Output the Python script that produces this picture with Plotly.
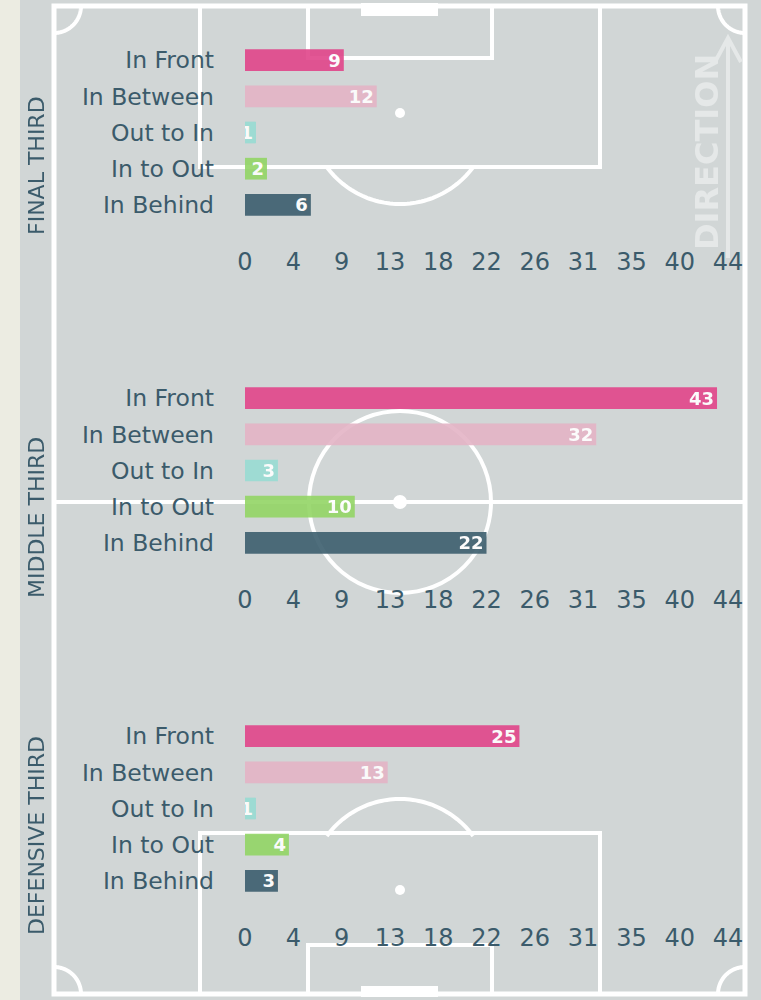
import numpy as np
import plotly.graph_objects as go

W, H = 761, 1000

# ---- data -------------------------------------------------------------
categories = ["In Front", "In Between", "Out to In", "In to Out", "In Behind"]
final_third = [9, 12, 1, 2, 6]
middle_third = [43, 32, 3, 10, 22]
defensive_third = [25, 13, 1, 4, 3]
zone_names = ["FINAL THIRD", "MIDDLE THIRD", "DEFENSIVE THIRD"]
x_max = 44
tick_labels = ["0", "4", "9", "13", "18", "22", "26", "31", "35", "40", "44"]

# ---- styling ----------------------------------------------------------
bar_colors = ["#e1458a", "#e4b4c6", "#98dcd3", "#92d565", "#3c5e6e"]
TEXT = "#3b5b6b"
PITCH_BG = "#d1d6d6"
STRIP = "#ecece2"
LINE = "white"
FONT = "DejaVu Sans"


def X(p):
    return p / W


def Y(p):
    return 1 - p / H


shapes = []


def add_line(x0, y0, x1, y1, w=4, color=LINE):
    shapes.append(dict(type="line", xref="paper", yref="paper",
                       x0=X(x0), y0=Y(y0), x1=X(x1), y1=Y(y1),
                       line=dict(color=color, width=w), layer="below"))


def add_rect(x0, y0, x1, y1, w=4, fill=None, color=LINE):
    shapes.append(dict(type="rect", xref="paper", yref="paper",
                       x0=X(x0), y0=Y(y1), x1=X(x1), y1=Y(y0),
                       line=dict(color=color, width=w),
                       fillcolor=fill if fill else "rgba(0,0,0,0)",
                       layer="below"))


def add_circle(cx, cy, r, w=4, fill=None):
    shapes.append(dict(type="circle", xref="paper", yref="paper",
                       x0=X(cx - r), x1=X(cx + r), y0=Y(cy + r), y1=Y(cy - r),
                       line=dict(color=LINE, width=w),
                       fillcolor=fill if fill else "rgba(0,0,0,0)",
                       layer="below"))


def add_arc(cx, cy, r, a0, a1, w=4, color=LINE):
    ang = np.linspace(np.radians(a0), np.radians(a1), 60)
    pts = [(X(cx + r * np.cos(a)), Y(cy + r * np.sin(a))) for a in ang]
    path = "M " + " L ".join(f"{px:.5f},{py:.5f}" for px, py in pts)
    shapes.append(dict(type="path", xref="paper", yref="paper", path=path,
                       line=dict(color=color, width=w), layer="below"))


# left strip
shapes.append(dict(type="rect", xref="paper", yref="paper", x0=0, x1=X(20),
                   y0=0, y1=1, fillcolor=STRIP, line=dict(width=0),
                   layer="below"))

# pitch markings (vertical pitch, attacking upwards)
L, R, T, B = 54, 745, 6, 994
add_rect(L, T, R, B, w=5)
add_line(L, 502, R, 502)
add_circle(400, 502, 91)
add_circle(400, 502, 7, w=0, fill=LINE)
# top end
add_rect(200, T, 600, 167)
add_rect(308, T, 492, 58)
add_rect(361, 3, 438, 16, w=0, fill=LINE)
add_circle(400, 113, 5, w=0, fill=LINE)
d_ang = np.degrees(np.arcsin((167 - 113) / 91))
add_arc(400, 113, 91, d_ang, 180 - d_ang)
# bottom end
add_rect(200, 833, 600, B)
add_rect(308, 945, 492, B)
add_rect(361, 986, 438, 997, w=0, fill=LINE)
add_circle(400, 890, 5, w=0, fill=LINE)
add_arc(400, 890, 91, -180 + d_ang, -d_ang)
# corner arcs
add_arc(L, T, 27, 0, 90)
add_arc(R, T, 27, 90, 180)
add_arc(L, B, 27, -90, 0)
add_arc(R, B, 27, 180, 270)

# direction arrow
ARROW = "#e5e8e8"
shapes.append(dict(type="path", xref="paper", yref="paper",
                   path=(f"M {X(728)},{Y(258)} L {X(728)},{Y(40)} "
                         f"M {X(715)},{Y(62)} L {X(728)},{Y(38)} L {X(741)},{Y(62)}"),
                   line=dict(color=ARROW, width=4), layer="below"))

fig = go.Figure()

panels = [
    (final_third, 42, 223, 166),
    (middle_third, 380, 561, 518),
    (defensive_third, 718, 899, 836),
]

annotations = []
for i, (values, top, bottom, label_y) in enumerate(panels, start=1):
    sfx = "" if i == 1 else str(i)
    fig.add_trace(go.Bar(
        x=values, y=categories, orientation="h",
        marker=dict(color=bar_colors, line=dict(width=0)),
        opacity=0.9, width=0.6,
        text=[str(v) for v in values],
        textposition="inside", insidetextanchor="end",
        constraintext="none", textangle=0,
        textfont=dict(family=FONT, size=18, color="white", weight="bold"),
        hoverinfo="skip", showlegend=False,
        xaxis="x" + sfx, yaxis="y" + sfx,
    ))
    fig.layout["xaxis" + sfx] = dict(
        domain=[X(245), X(728)], anchor="y" + sfx, range=[0, x_max],
        tickmode="array", tickvals=list(np.linspace(0, x_max, 11)),
        ticktext=tick_labels, showgrid=False, zeroline=False,
        showline=False, ticks="", ticklabelstandoff=22, automargin=False,
        tickfont=dict(family=FONT, size=24, color=TEXT), fixedrange=True,
    )
    fig.layout["yaxis" + sfx] = dict(
        domain=[Y(bottom), Y(top)], anchor="x" + sfx, type="category",
        categoryorder="array", categoryarray=categories,
        range=[4.5, -0.5], showgrid=False, zeroline=False, showline=False,
        ticks="", ticklabelstandoff=30, automargin=False,
        tickfont=dict(family=FONT, size=23.5, color=TEXT), fixedrange=True,
    )
    annotations.append(dict(
        text=zone_names[i - 1], xref="paper", yref="paper",
        x=X(36), y=Y(label_y), xanchor="center", yanchor="middle",
        textangle=-90, showarrow=False,
        font=dict(family=FONT, size=22, color=TEXT),
    ))

annotations.append(dict(
    text="DIRECTION", xref="paper", yref="paper",
    x=X(707), y=Y(152), xanchor="center", yanchor="middle",
    textangle=-90, showarrow=False,
    font=dict(family=FONT, size=32, color=ARROW, weight="bold"),
))

fig.update_layout(
    width=W, height=H,
    margin=dict(l=0, r=0, t=0, b=0, pad=0, autoexpand=False),
    paper_bgcolor=PITCH_BG, plot_bgcolor="rgba(0,0,0,0)",
    shapes=shapes, annotations=annotations,
    bargap=0.4,
)

fig.write_html("out.html", config={"displayModeBar": False})
